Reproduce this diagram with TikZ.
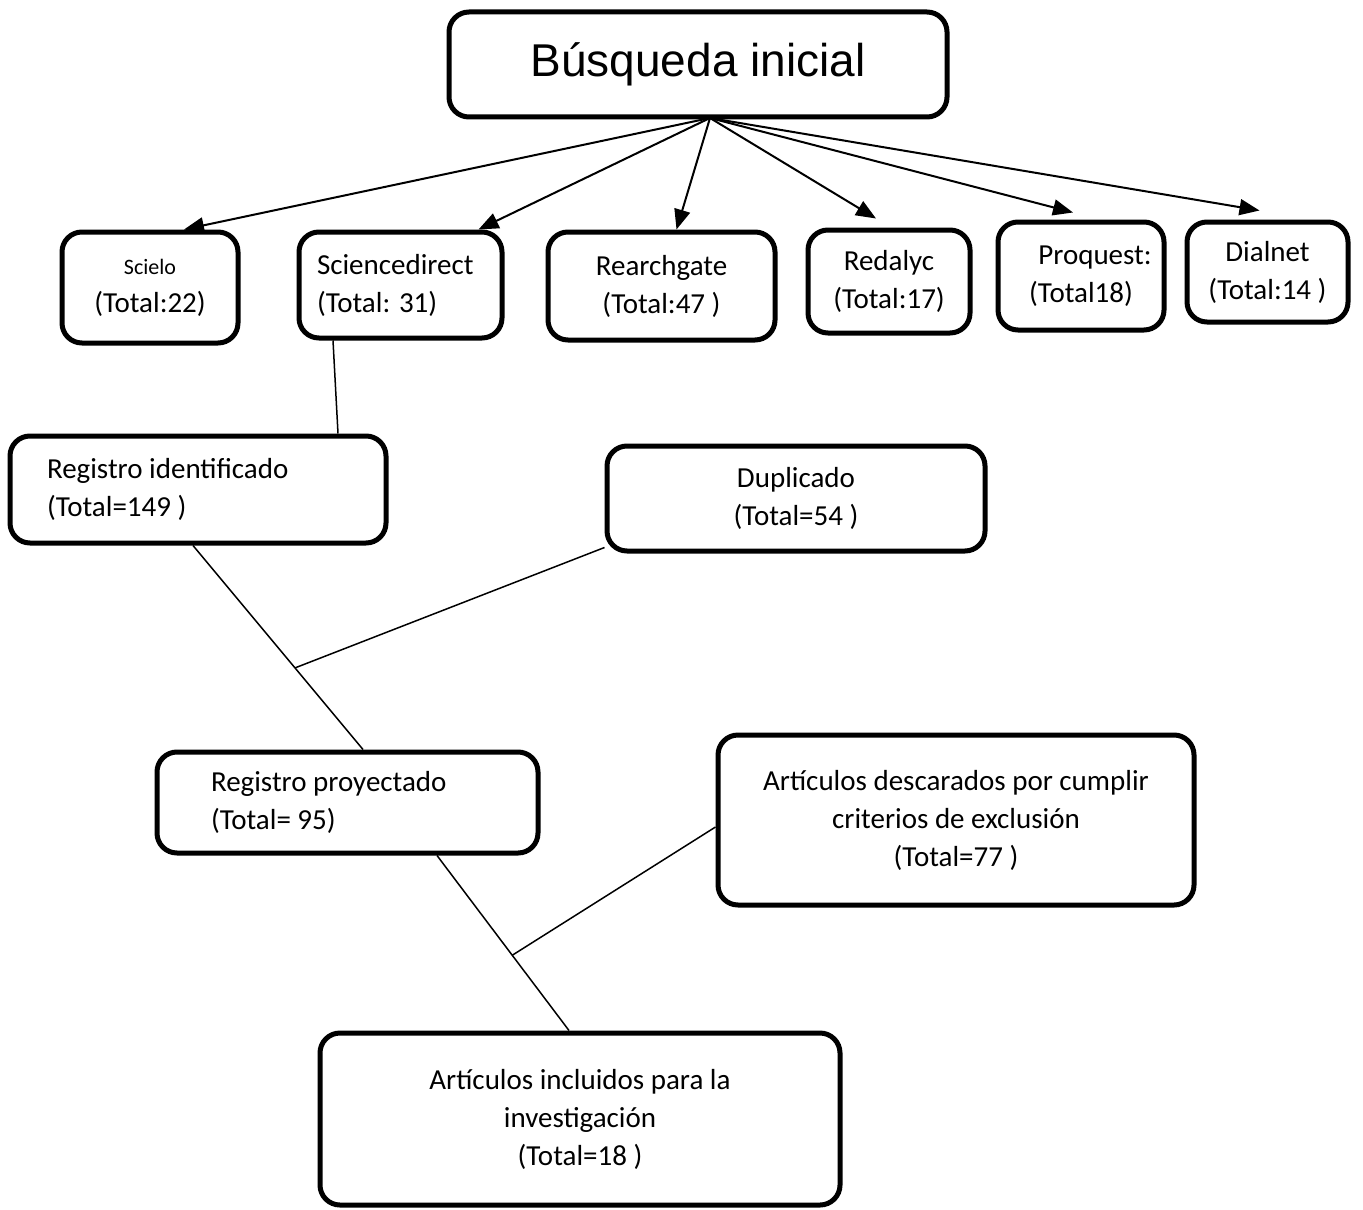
\documentclass[tikz,border=0pt]{standalone}
\usepackage{fontspec}
\setmainfont{Carlito}
\newfontfamily\titlefont{Liberation Sans}
\usepackage{tikz}
\usetikzlibrary{arrows.meta,calc}

\begin{document}
\begin{tikzpicture}[x=0.5pt, y=-0.5pt,
    caja/.style={draw={black}, line width=2.5pt, rectangle, rounded corners=10pt, align=center, inner sep=0pt, font=\fontsize{14.5}{19}\selectfont},
    flecha/.style={line width=1pt, -{Triangle[length=10pt,width=8pt]}},
    linea/.style={line width=0.75pt}]
\useasboundingbox (0,0) rectangle (1363,1209);

\node [caja, minimum width=249pt, minimum height=52.5pt, font=\titlefont\fontsize{23}{28}\selectfont] (inicial) at (698,64.5) {Búsqueda inicial};

% fuentes
\node [caja, minimum width=88pt, minimum height=55.5pt] (scielo) at (150,287.5) {{\fontsize{11}{13}\selectfont Scielo}\\(Total:22)};
\node [caja, minimum width=101.5pt, minimum height=53pt, align=flush left, text width=83.5pt, inner xsep=9pt] (sciencedirect) at (400.5,285) {Sciencedirect\\(Total: 31)};
\node [caja, minimum width=113.5pt, minimum height=54pt] (rearchgate) at (661.5,286) {Rearchgate\\(Total:47 )};
\node [caja, minimum width=81pt, minimum height=51.5pt] (redalyc) at (889,281.5) {Redalyc\\(Total:17)};
\node [caja, minimum width=83pt, minimum height=54pt] (proquest) at (1081,276) {\hspace*{14pt}Proquest:\\(Total18)};
\node [caja, minimum width=80.5pt, minimum height=50pt] (dialnet) at (1267.5,272) {Dialnet\\(Total:14 )};

% registros
\node [caja, minimum width=188pt, minimum height=53.5pt, align=flush left, text width=151pt, inner xsep=18.5pt] (registro) at (198,489.5) {Registro identificado\\(Total=149 )};
\node [caja, minimum width=189pt, minimum height=52.5pt] (duplicado) at (796,498.5) {Duplicado\\(Total=54 )};
\node [caja, minimum width=190.5pt, minimum height=50.5pt, align=flush left, text width=136.5pt, inner xsep=27pt] (proyectado) at (347.5,802.5) {Registro proyectado\\(Total= 95)};
\node [caja, minimum width=238pt, minimum height=85pt] (descartados) at (956,820) {Artículos descarados por cumplir\\criterios de exclusión\\(Total=77 )};
\node [caja, minimum width=260pt, minimum height=86pt] (incluidos) at (580,1119) {Artículos incluidos para la\\investigación\\(Total=18 )};

% flechas
\coordinate (centro) at (710,118);
\draw [flecha] (centro) -- ([xshift=17pt]scielo.north);
\draw [flecha] (centro) -- ([xshift=39pt]sciencedirect.north);
\draw [flecha] (centro) -- ([xshift=7.5pt]rearchgate.north);
\draw [flecha] (centro) -- ([xshift=-6.5pt,yshift=4.5pt]redalyc.north);
\draw [flecha] (centro) -- ([xshift=-4pt,yshift=3.5pt]proquest.north);
\draw [flecha] (centro) -- ([xshift=-4pt,yshift=4.5pt]dialnet.north);

% lineas
\draw [linea] ([xshift=-33.75pt]sciencedirect.south) -- ([xshift=70pt]registro.north);
\coordinate (r1) at ([xshift=-2.5pt]registro.south);
\coordinate (r2) at ([xshift=7.75pt]proyectado.north);
\draw [linea] (r1) -- (r2);
\coordinate (cruce1) at ($(r1)!0.6!(r2)$);
\draw [linea] ([yshift=3pt]duplicado.south west) -- (cruce1);
\coordinate (p1) at ([xshift=44.75pt]proyectado.south);
\coordinate (p2) at ([xshift=-5.5pt]incluidos.north);
\draw [linea] (p1) -- (p2);
\coordinate (cruce2) at ($(p1)!0.57!(p2)$);
\draw [linea] ([yshift=-3.5pt]descartados.west) -- (cruce2);
\end{tikzpicture}
\end{document}
